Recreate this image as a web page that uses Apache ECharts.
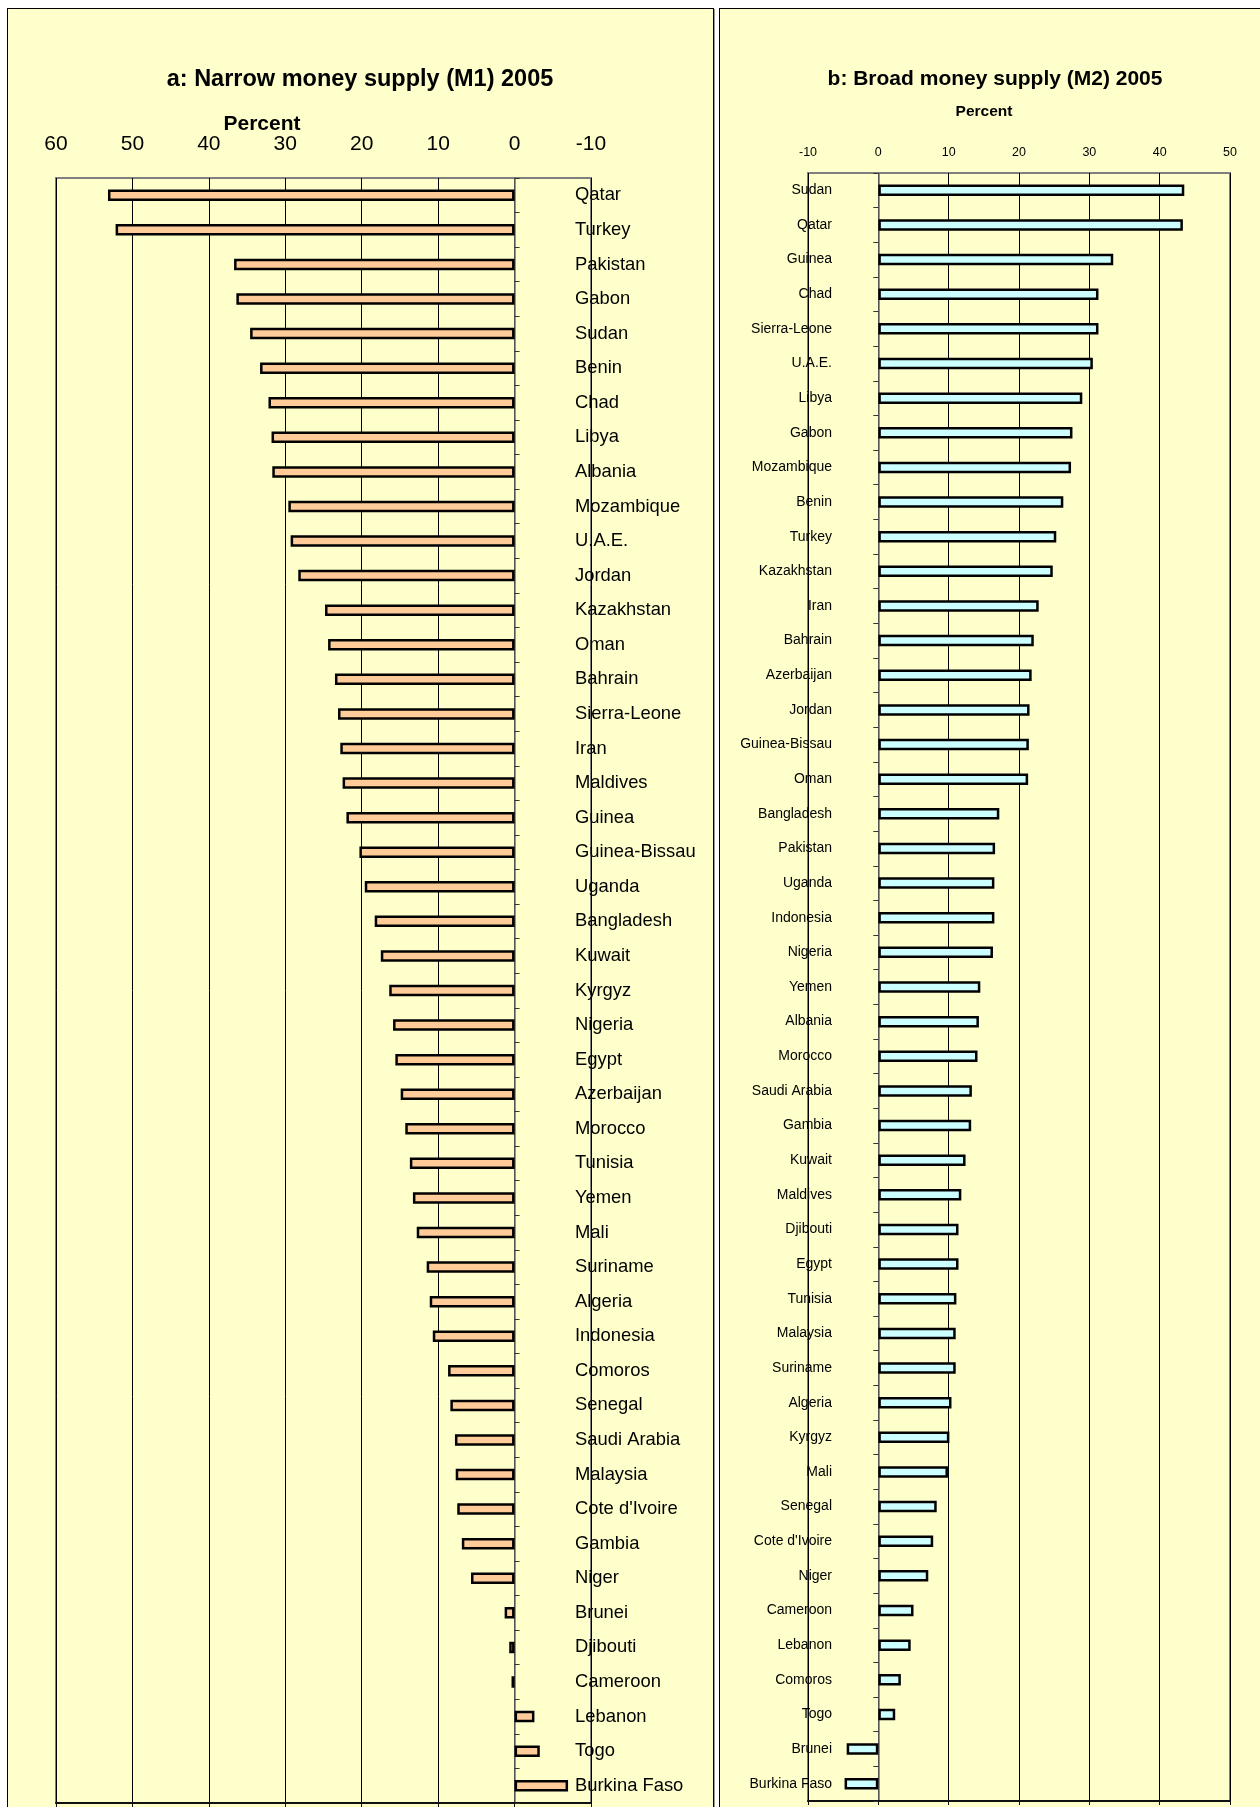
<!DOCTYPE html>
<html>
<head>
<meta charset="utf-8">
<script src="https://cdn.jsdelivr.net/npm/echarts@6/dist/echarts.min.js"></script>
<style>
  html, body { margin: 0; padding: 0; width: 1260px; height: 1807px; overflow: hidden; background: #fff; }
  .panel { position: absolute; background: #ffffcc; border: 1px solid #000; box-shadow: 1px 1px 0 #9a9a9a; }
  #m1panel { left: 7px; top: 8px; width: 705px; height: 1850px; }
  #m2panel { left: 719px; top: 8px; width: 600px; height: 1850px; }
  #chart { position: absolute; left: 0; top: 0; width: 1260px; height: 1807px; }
</style>
</head>
<body>
<div class="panel" id="m1panel"></div>
<div class="panel" id="m2panel"></div>
<div id="chart"></div>
<script>
// a: M1 growth, percent (top to bottom)
const m1Countries = ['Qatar', 'Turkey', 'Pakistan', 'Gabon', 'Sudan', 'Benin', 'Chad', 'Libya', 'Albania',
  'Mozambique', 'U.A.E.', 'Jordan', 'Kazakhstan', 'Oman', 'Bahrain', 'Sierra-Leone', 'Iran', 'Maldives',
  'Guinea', 'Guinea-Bissau', 'Uganda', 'Bangladesh', 'Kuwait', 'Kyrgyz', 'Nigeria', 'Egypt', 'Azerbaijan',
  'Morocco', 'Tunisia', 'Yemen', 'Mali', 'Suriname', 'Algeria', 'Indonesia', 'Comoros', 'Senegal',
  'Saudi Arabia', 'Malaysia', "Cote d'Ivoire", 'Gambia', 'Niger', 'Brunei', 'Djibouti', 'Cameroon',
  'Lebanon', 'Togo', 'Burkina Faso'];
const m1Values = [53.2, 52.2, 36.7, 36.4, 34.6, 33.3, 32.2, 31.8, 31.7,
  29.6, 29.3, 28.3, 24.8, 24.4, 23.5, 23.1, 22.8, 22.5,
  22.0, 20.3, 19.6, 18.3, 17.5, 16.4, 15.9, 15.6, 14.9,
  14.3, 13.7, 13.3, 12.8, 11.5, 11.1, 10.7, 8.7, 8.4,
  7.8, 7.7, 7.5, 6.9, 5.7, 1.3, 0.7, 0.4,
  -2.6, -3.3, -7.0];

// b: M2 growth, percent (top to bottom)
const m2Countries = ['Sudan', 'Qatar', 'Guinea', 'Chad', 'Sierra-Leone', 'U.A.E.', 'Libya', 'Gabon',
  'Mozambique', 'Benin', 'Turkey', 'Kazakhstan', 'Iran', 'Bahrain', 'Azerbaijan', 'Jordan', 'Guinea-Bissau',
  'Oman', 'Bangladesh', 'Pakistan', 'Uganda', 'Indonesia', 'Nigeria', 'Yemen', 'Albania', 'Morocco',
  'Saudi Arabia', 'Gambia', 'Kuwait', 'Maldives', 'Djibouti', 'Egypt', 'Tunisia', 'Malaysia', 'Suriname',
  'Algeria', 'Kyrgyz', 'Mali', 'Senegal', "Cote d'Ivoire", 'Niger', 'Cameroon', 'Lebanon', 'Comoros',
  'Togo', 'Brunei', 'Burkina Faso'];
const m2Values = [43.5, 43.3, 33.4, 31.3, 31.3, 30.5, 29.0, 27.6,
  27.4, 26.3, 25.3, 24.8, 22.8, 22.1, 21.8, 21.5, 21.4,
  21.3, 17.2, 16.6, 16.5, 16.5, 16.3, 14.5, 14.3, 14.1,
  13.3, 13.2, 12.4, 11.8, 11.4, 11.4, 11.1, 11.0, 11.0,
  10.4, 10.1, 9.9, 8.3, 7.8, 7.1, 5.0, 4.6, 3.2,
  2.4, -4.5, -4.8];

// axis ranges
const m1Min = -10, m1Max = 60;
const m2Min = -10, m2Max = 50;
const tickStep = 10;

const FONT = "'Liberation Sans', Arial, Helvetica, sans-serif";

const chart = echarts.init(document.getElementById('chart'));

function topAxis(grid, min, max, inverse, size, margin) {
  return {
    gridIndex: grid, type: 'value', position: 'top', inverse: inverse,
    min: min, max: max, interval: tickStep,
    axisLine: { show: false, onZero: false },
    axisTick: { show: false },
    axisLabel: { fontSize: size, margin: margin, color: '#000', fontFamily: FONT },
    splitLine: { show: true, lineStyle: { color: '#000', width: 1 } }
  };
}

function bottomAxis(grid, min, max, inverse) {
  return {
    gridIndex: grid, type: 'value', position: 'bottom', inverse: inverse,
    min: min, max: max, interval: tickStep,
    axisLine: { show: true, onZero: false, lineStyle: { color: '#111', width: 2 } },
    axisTick: { show: true, length: 4, lineStyle: { color: '#111' } },
    axisLabel: { show: false },
    splitLine: { show: false }
  };
}

// labels stay at the grid edge in v6, so margin is measured from there
function catAxis(grid, data, pos, size, margin) {
  return {
    gridIndex: grid, type: 'category', data: data, inverse: true, position: pos,
    axisLine: { show: true, onZero: true, lineStyle: { color: '#707070', width: 1.5 } },
    axisTick: { show: true, interval: 0, length: 5, lineStyle: { color: '#333' } },
    axisLabel: { interval: 0, fontSize: size, margin: margin, color: '#000', fontFamily: FONT },
    splitLine: { show: false }
  };
}

chart.setOption({
  animation: false,
  backgroundColor: 'transparent',
  textStyle: { fontFamily: FONT },
  grid: [
    { left: 56, right: 669, top: 178, height: 1625, show: true, borderColor: '#808080', borderWidth: 2 },
    { left: 808, right: 30, top: 173, height: 1628, show: true, borderColor: '#808080', borderWidth: 2 }
  ],
  xAxis: [
    topAxis(0, m1Min, m1Max, true, 21, 23),
    bottomAxis(0, m1Min, m1Max, true),
    topAxis(1, m2Min, m2Max, false, 12.5, 14),
    bottomAxis(1, m2Min, m2Max, false)
  ],
  yAxis: [
    catAxis(0, m1Countries, 'right', 18.4, -16),
    catAxis(1, m2Countries, 'left', 14, -24)
  ],
  series: [
    {
      name: 'M1', type: 'bar', xAxisIndex: 0, yAxisIndex: 0, data: m1Values,
      barWidth: 11.5, silent: true,
      itemStyle: { color: '#ffcc99', borderColor: '#000', borderWidth: 2.5 }
    },
    {
      name: 'M2', type: 'bar', xAxisIndex: 2, yAxisIndex: 1, data: m2Values,
      barWidth: 11.5, silent: true,
      itemStyle: { color: '#ccffff', borderColor: '#000', borderWidth: 2.5 }
    }
  ],
  graphic: [
    { type: 'text', x: 360, y: 80, style: { text: 'a: Narrow money supply (M1) 2005', font: 'bold 23.5px ' + FONT, fill: '#000', textAlign: 'center', textVerticalAlign: 'middle' } },
    { type: 'text', x: 262, y: 124, style: { text: 'Percent', font: 'bold 21px ' + FONT, fill: '#000', textAlign: 'center', textVerticalAlign: 'middle' } },
    { type: 'text', x: 995, y: 79, style: { text: 'b: Broad money supply (M2) 2005', font: 'bold 21px ' + FONT, fill: '#000', textAlign: 'center', textVerticalAlign: 'middle' } },
    { type: 'text', x: 984, y: 112, style: { text: 'Percent', font: 'bold 15.5px ' + FONT, fill: '#000', textAlign: 'center', textVerticalAlign: 'middle' } }
  ]
});
</script>
</body>
</html>
